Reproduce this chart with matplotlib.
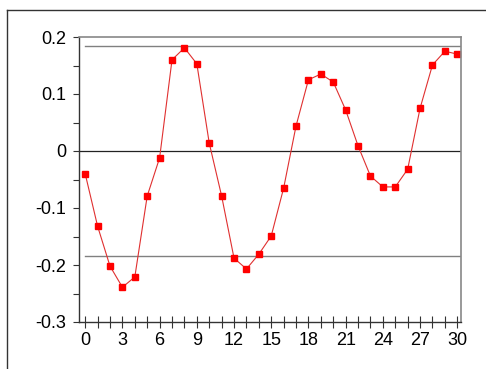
import numpy as np
import matplotlib.pyplot as plt
from matplotlib.lines import Line2D
from matplotlib.ticker import MultipleLocator

plt.rcParams['font.family'] = ['Liberation Sans', 'DejaVu Sans']

lags = np.arange(0, 31)
acf = [-0.040, -0.132, -0.202, -0.239, -0.221, -0.079, -0.012, 0.160, 0.181, 0.153,
       0.014, -0.079, -0.188, -0.207, -0.181, -0.149, -0.065, 0.044, 0.125, 0.135,
       0.121, 0.072, 0.009, -0.044, -0.063, -0.063, -0.032, 0.075, 0.151, 0.175, 0.170]
conf = 0.185

fig = plt.figure(figsize=(4.86, 3.69), dpi=100)
ax = fig.add_axes([79 / 486, 1 - 322 / 369, (461 - 79) / 486, (322 - 37) / 369])

ax.plot([0, 30.2], [conf, conf], color='#808080', lw=1.0)
ax.plot([0, 30.2], [-conf, -conf], color='#808080', lw=1.0)
ax.plot([-0.5, 30.3], [0, 0], color='#222222', lw=0.9)
ax.plot(lags, acf, color='#e03030', lw=0.8, marker='s', markersize=4.2,
        markerfacecolor='#ff0000', markeredgecolor='#ff0000')

ax.set_xlim(-0.5, 30.3)
ax.set_ylim(-0.3, 0.2)
ax.xaxis.set_major_locator(MultipleLocator(3))
ax.xaxis.set_minor_locator(MultipleLocator(1))
ax.yaxis.set_minor_locator(MultipleLocator(0.05))
ax.set_yticks(np.arange(-0.3, 0.21, 0.1))
ax.set_yticklabels(['-0.3', '-0.2', '-0.1', '0', '0.1', '0.2'])
ax.tick_params(axis='x', which='both', direction='inout', length=8, width=0.8,
               color='#333333', labelsize=13, pad=3)
ax.tick_params(axis='y', which='both', direction='out', length=4, width=0.8,
               color='#333333', labelsize=13, pad=5)

for side in ['left', 'bottom']:
    ax.spines[side].set_color('#333333')
    ax.spines[side].set_linewidth(1.0)
for side in ['top', 'right']:
    ax.spines[side].set_color('#888888')
    ax.spines[side].set_linewidth(1.2)

# outer frame edges
fig.add_artist(Line2D([7 / 486, 1], [1 - 10 / 369, 1 - 10 / 369], color='#333333', lw=1.0))
fig.add_artist(Line2D([7 / 486, 7 / 486], [0, 1 - 10 / 369], color='#333333', lw=1.0))

fig.savefig('out.png', dpi=100)
